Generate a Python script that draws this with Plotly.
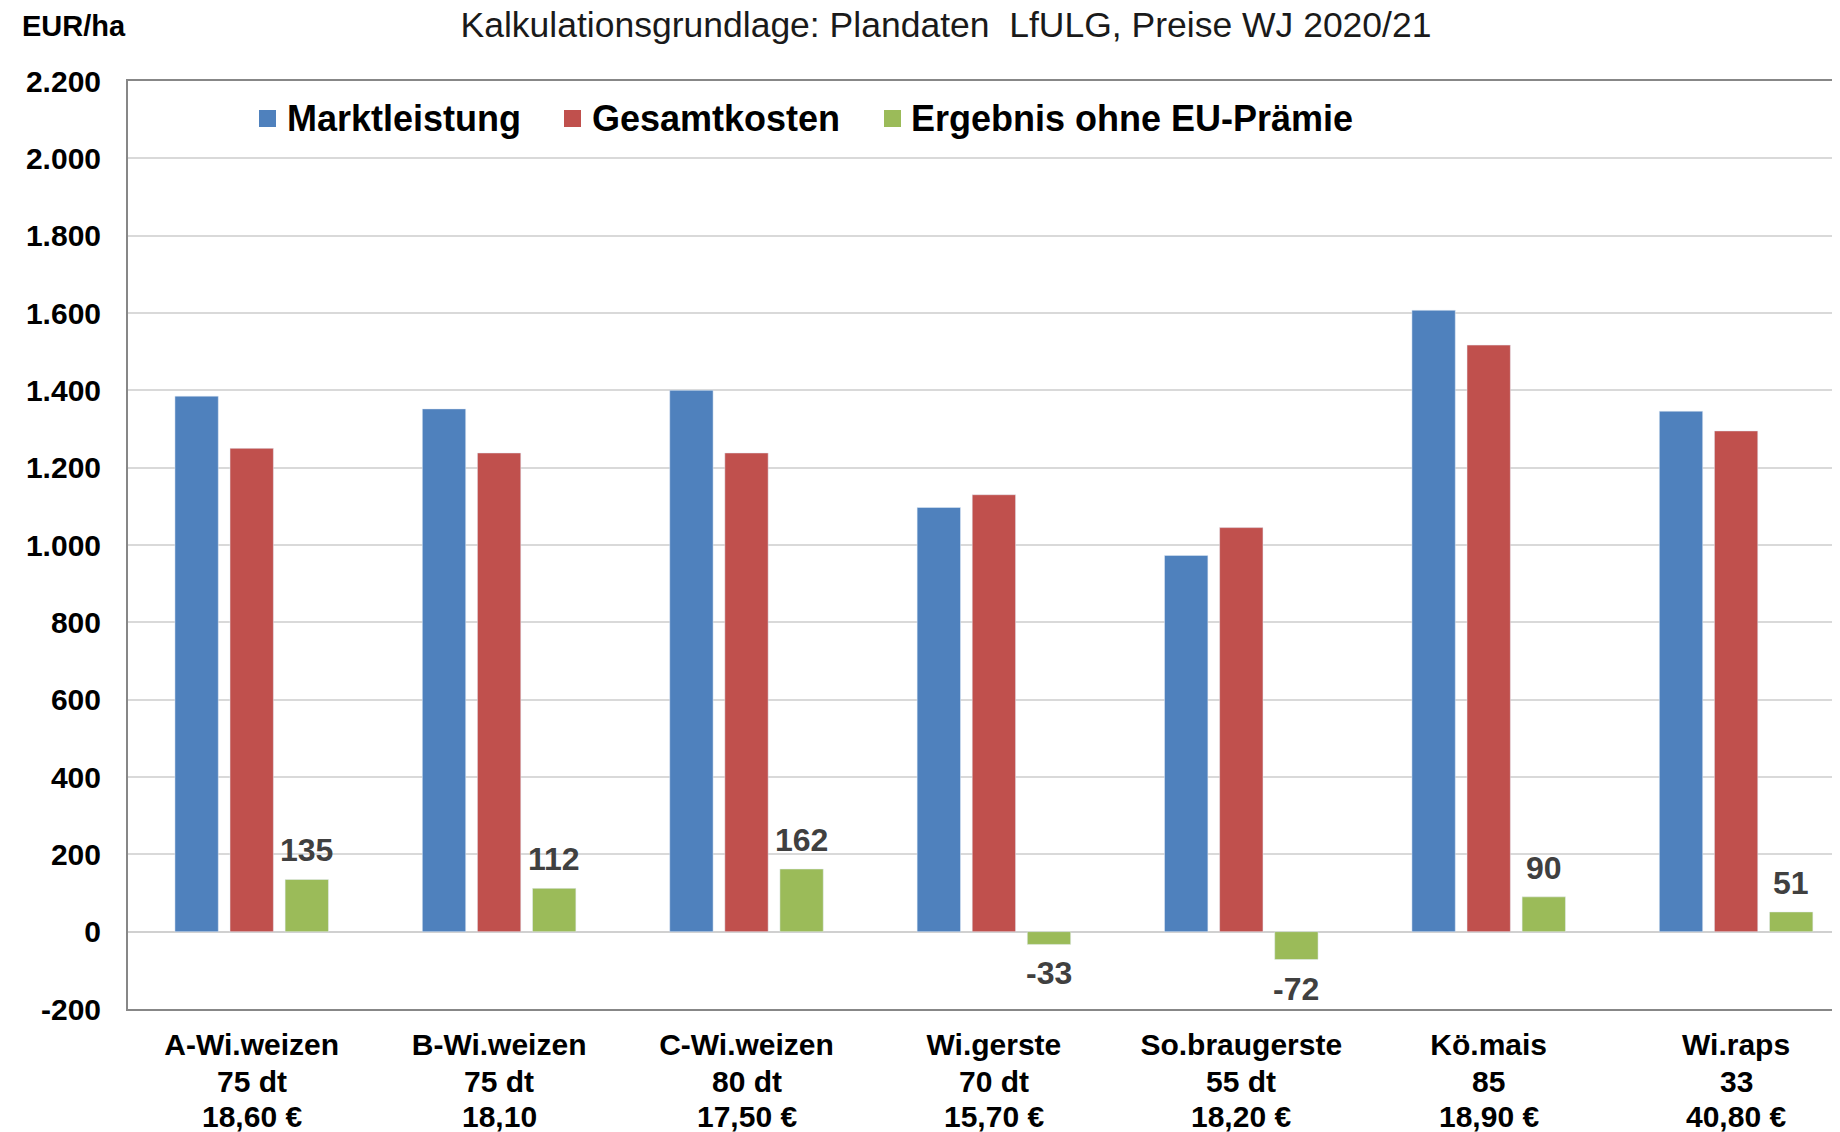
import plotly.graph_objects as go

categories = ["A-Wi.weizen", "B-Wi.weizen", "C-Wi.weizen", "Wi.gerste", "So.braugerste", "Kö.mais", "Wi.raps"]
ertrag = ["75 dt", "75 dt", "80 dt", "70 dt", "55 dt", "85", "33"]
preis = ["18,60 €", "18,10", "17,50 €", "15,70 €", "18,20 €", "18,90 €", "40,80 €"]

series_names = ["Marktleistung", "Gesamtkosten", "Ergebnis ohne EU-Prämie"]
marktleistung = [1385, 1352, 1400, 1097, 973, 1607, 1346]
gesamtkosten = [1250, 1238, 1238, 1130, 1045, 1517, 1295]
ergebnis = [135, 112, 162, -33, -72, 90, 51]

y_ticks = [-200, 0, 200, 400, 600, 800, 1000, 1200, 1400, 1600, 1800, 2000, 2200]
y_ticktext = ["-200", "0", "200", "400", "600", "800", "1.000", "1.200", "1.400", "1.600", "1.800", "2.000", "2.200"]

COLORS = ["#4F81BD", "#C0504D", "#9BBB59"]
FONT = "Liberation Sans, Arial, sans-serif"
W, H = 1840, 1132
OFF = 8  # page body margin
# plot area in page pixels: left 128, top 81, bottom 1009, right 1840
ML = 128 - OFF
MT = 81 - OFF
MR = OFF
MB = H - (1009 - OFF)
BARGAP, GROUPGAP = 0.332, 0.213
XMAX = 6.42
plot_w = W - ML - MR
plot_h = H - MT - MB


def px_x(page_x):
    return (page_x - 128) / plot_w


def px_y(page_y):
    return (1009 - page_y) / plot_h


fig = go.Figure()
for name, vals, col in zip(series_names, [marktleistung, gesamtkosten, ergebnis], COLORS):
    fig.add_trace(go.Bar(name=name, x=categories, y=vals, marker_color=col, showlegend=False))

# data labels for the result bars
cat_px = plot_w / (XMAX + 0.5)
slot_px = cat_px * (1 - BARGAP) / 3
for c, v in zip(categories, ergebnis):
    fig.add_annotation(x=c, y=v, text=f"{v}", showarrow=False, xshift=slot_px,
                       yanchor="bottom" if v >= 0 else "top",
                       yshift=9 if v >= 0 else -9,
                       font=dict(family=FONT, size=32, color="#404040", weight="bold"))

# second and third lines of the category labels
for c, e, p in zip(categories, ertrag, preis):
    for txt, py in ((e, 1081), (p, 1116)):
        fig.add_annotation(x=c, xref="x", yref="paper", y=px_y(py), text=txt, showarrow=False,
                           xanchor="center", yanchor="middle",
                           font=dict(family=FONT, size=30, color="#000000", weight="bold"))

# unit label
fig.add_annotation(xref="paper", yref="paper", x=px_x(74), y=px_y(26),
                   text="EUR/ha", showarrow=False, xanchor="center", yanchor="middle",
                   font=dict(family=FONT, size=29, color="#000000", weight="bold"))

# legend (drawn manually to match spacing)
legend_sq_x = [259, 564, 884]
legend_txt_x = [285, 590, 909]
legend_y = 118.5
for name, col, sx, tx in zip(series_names, COLORS, legend_sq_x, legend_txt_x):
    fig.add_shape(type="rect", xref="paper", yref="paper",
                  x0=px_x(sx), x1=px_x(sx + 17), y0=px_y(legend_y + 8.5), y1=px_y(legend_y - 8.5),
                  fillcolor=col, line=dict(width=0))
    fig.add_annotation(xref="paper", yref="paper", x=px_x(tx), y=px_y(legend_y),
                       text=name, showarrow=False, xanchor="left", yanchor="middle",
                       font=dict(family=FONT, size=36, color="#000000", weight="bold"))

fig.update_layout(
    width=W, height=H,
    margin=dict(l=ML, r=MR, t=MT, b=MB, autoexpand=False),
    paper_bgcolor="white", plot_bgcolor="white",
    barmode="group", bargap=BARGAP, bargroupgap=GROUPGAP,
    showlegend=False,
    title=dict(text="Kalkulationsgrundlage: Plandaten  LfULG, Preise WJ 2020/21",
               xref="container", yref="container", x=(946 - OFF) / W, y=1 - 17 / H,
               xanchor="center", yanchor="middle",
               font=dict(family=FONT, size=35.5, color="#1a1a1a")),
    xaxis=dict(range=[-0.5, XMAX], tickvals=categories, ticktext=categories,
               tickfont=dict(family=FONT, size=30, color="#000000", weight="bold"),
               showline=True, linecolor="#878787", linewidth=2, mirror=True,
               showgrid=False, ticks="", ticklabelstandoff=8, automargin=False),
    yaxis=dict(range=[-200, 2200], tickvals=y_ticks, ticktext=y_ticktext,
               tickfont=dict(family=FONT, size=30, color="#000000", weight="bold"),
               showline=True, linecolor="#878787", linewidth=2,
               showgrid=True, gridcolor="#D9D9D9", gridwidth=2,
               zeroline=True, zerolinecolor="#D0D0D0", zerolinewidth=2,
               ticks="", ticklabelstandoff=19, automargin=False),
)

fig.write_html("out.html")
